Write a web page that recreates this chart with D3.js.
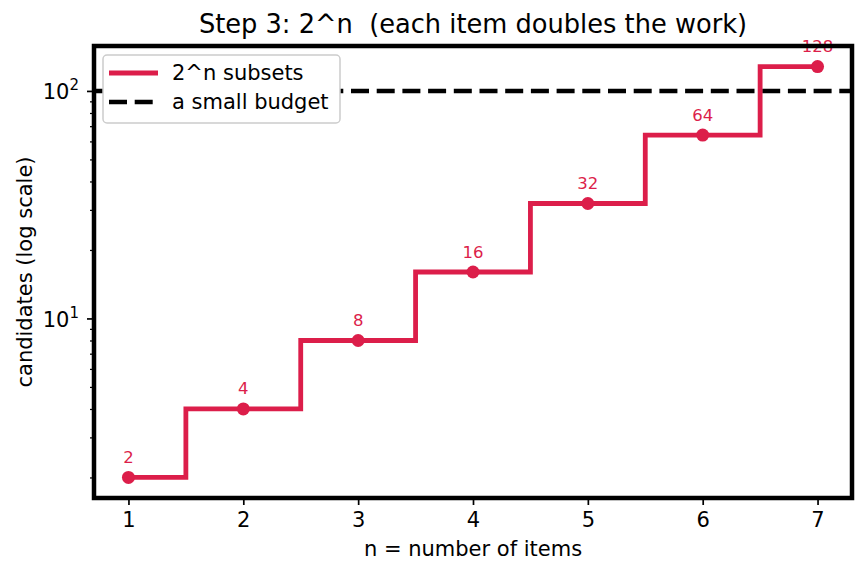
<!DOCTYPE html>
<html>
<head>
<meta charset="utf-8">
<script src="https://cdn.jsdelivr.net/npm/d3@7"></script>
<style>
  body { margin: 0; background: #fff; }
  text { font-family: "DejaVu Sans", sans-serif; }
</style>
</head>
<body>
<script>
var nValues = [1, 2, 3, 4, 5, 6, 7];
var subsetCounts = [2, 4, 8, 16, 32, 64, 128];
var budget = 100;
var xTicks = [1, 2, 3, 4, 5, 6, 7];
var yMajorTicks = [10, 100];
var yMinorTicks = [2, 3, 4, 5, 6, 7, 8, 9, 20, 30, 40, 50, 60, 70, 80, 90];
var legendLabels = ["2^n subsets", "a small budget"];

var red = "#dc1e4a";
var width = 866, height = 573;
var plotLeft = 94, plotRight = 852, plotTop = 46, plotBottom = 498;

var svg = d3.select("body").append("svg")
    .attr("width", width)
    .attr("height", height);

// matplotlib style margins: 5% on each side
var xPad = (d3.max(nValues) - d3.min(nValues)) * 0.05;
var x = d3.scaleLinear()
    .domain([d3.min(nValues) - xPad, d3.max(nValues) + xPad])
    .range([plotLeft, plotRight]);

var lo = Math.log10(d3.min(subsetCounts)), hi = Math.log10(d3.max(subsetCounts));
var yPad = (hi - lo) * 0.05;
var y = d3.scaleLog()
    .domain([Math.pow(10, lo - yPad), Math.pow(10, hi + yPad)])
    .range([plotBottom, plotTop]);

// x axis
var xAxis = svg.append("g")
    .attr("transform", "translate(0," + plotBottom + ")")
    .call(d3.axisBottom(x).tickValues(xTicks).tickFormat(d3.format("d")).tickSize(7).tickPadding(7));
xAxis.select(".domain").remove();
xAxis.selectAll("line").attr("stroke-width", 1.7);
xAxis.selectAll("text").attr("font-size", 21).attr("fill", "#000");

// y axis, minor then major
var yMinor = svg.append("g")
    .attr("transform", "translate(" + plotLeft + ",0)")
    .call(d3.axisLeft(y).tickValues(yMinorTicks).tickFormat("").tickSize(4));
yMinor.select(".domain").remove();
yMinor.selectAll("line").attr("stroke-width", 1.25);

var yAxis = svg.append("g")
    .attr("transform", "translate(" + plotLeft + ",0)")
    .call(d3.axisLeft(y).tickValues(yMajorTicks).tickFormat("").tickSize(7));
yAxis.select(".domain").remove();
yAxis.selectAll("line").attr("stroke-width", 1.7);
yAxis.selectAll(".tick").append("text")
    .attr("x", -15)
    .attr("y", 8)
    .attr("text-anchor", "end")
    .attr("font-size", 21)
    .attr("fill", "#000")
    .each(function(d) {
        var t = d3.select(this);
        t.append("tspan").text("10");
        t.append("tspan").attr("font-size", 15).attr("dy", -9).text(Math.round(Math.log10(d)));
    });

// budget line
svg.append("line")
    .attr("x1", plotLeft).attr("x2", plotRight)
    .attr("y1", y(budget)).attr("y2", y(budget))
    .attr("stroke", "#000")
    .attr("stroke-width", 4.6)
    .attr("stroke-dasharray", "18,7.7");

// step line (where = mid)
var stepLine = d3.line()
    .x(function(d, i) { return x(nValues[i]); })
    .y(function(d) { return y(d); })
    .curve(d3.curveStep);

svg.append("path")
    .datum(subsetCounts)
    .attr("d", stepLine)
    .attr("fill", "none")
    .attr("stroke", red)
    .attr("stroke-width", 4.8)
    .attr("stroke-linejoin", "miter");

svg.selectAll(".pt")
    .data(subsetCounts)
    .enter().append("circle")
    .attr("class", "pt")
    .attr("cx", function(d, i) { return x(nValues[i]); })
    .attr("cy", function(d) { return y(d); })
    .attr("r", 6.5)
    .attr("fill", red);

svg.selectAll(".lbl")
    .data(subsetCounts)
    .enter().append("text")
    .attr("class", "lbl")
    .attr("x", function(d, i) { return x(nValues[i]); })
    .attr("y", function(d) { return y(d) - 14.5; })
    .attr("text-anchor", "middle")
    .attr("font-size", 16.5)
    .attr("fill", red)
    .text(function(d) { return d; });

// frame
svg.append("rect")
    .attr("x", plotLeft).attr("y", plotTop)
    .attr("width", plotRight - plotLeft).attr("height", plotBottom - plotTop)
    .attr("fill", "none")
    .attr("stroke", "#000")
    .attr("stroke-width", 4.5);

// legend
var legend = svg.append("g").attr("transform", "translate(103,55)");
legend.append("rect")
    .attr("width", 237).attr("height", 68)
    .attr("rx", 4)
    .attr("fill", "#fff")
    .attr("stroke", "#cccccc")
    .attr("stroke-width", 1.5);
legend.append("line")
    .attr("x1", 6).attr("x2", 55).attr("y1", 18).attr("y2", 18)
    .attr("stroke", red).attr("stroke-width", 4.8);
legend.append("line")
    .attr("x1", 6).attr("x2", 55).attr("y1", 47).attr("y2", 47)
    .attr("stroke", "#000").attr("stroke-width", 4.6)
    .attr("stroke-dasharray", "18,7.7");
legend.selectAll(".legtext")
    .data(legendLabels)
    .enter().append("text")
    .attr("x", 69)
    .attr("y", function(d, i) { return 25 + i * 29; })
    .attr("font-size", 21)
    .attr("fill", "#000")
    .text(function(d) { return d; });

// titles
svg.append("text")
    .attr("x", (plotLeft + plotRight) / 2).attr("y", 33)
    .attr("text-anchor", "middle")
    .attr("font-size", 25.7)
    .attr("fill", "#000")
    .attr("xml:space", "preserve")
    .style("white-space", "pre")
    .text("Step 3: 2^n  (each item doubles the work)");

svg.append("text")
    .attr("x", (plotLeft + plotRight) / 2).attr("y", 556)
    .attr("text-anchor", "middle")
    .attr("font-size", 21)
    .attr("fill", "#000")
    .text("n = number of items");

svg.append("text")
    .attr("transform", "translate(32," + ((plotTop + plotBottom) / 2) + ") rotate(-90)")
    .attr("text-anchor", "middle")
    .attr("font-size", 21)
    .attr("fill", "#000")
    .text("candidates (log scale)");
</script>
</body>
</html>
